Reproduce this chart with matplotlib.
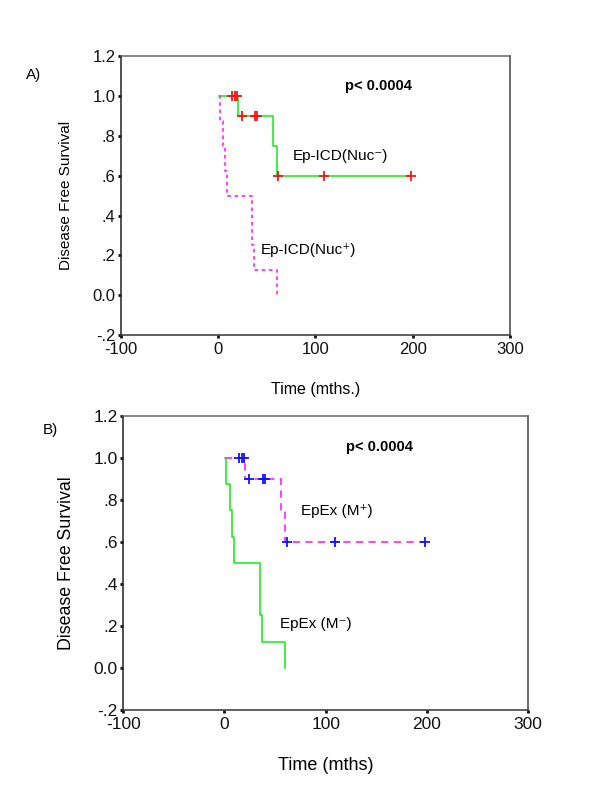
import matplotlib
matplotlib.use("Agg")
import matplotlib.pyplot as plt

plt.rcParams['font.family'] = ['Liberation Sans', 'DejaVu Sans']

# step curves (time in months, survival)
good_t = [1, 20, 56, 60, 198]
good_s = [1.0, 0.9, 0.75, 0.6, 0.6]
good_cens_t = [14, 17, 19, 24, 38, 40, 62, 109, 198]
good_cens_s = [1.0, 1.0, 1.0, 0.9, 0.9, 0.9, 0.6, 0.6, 0.6]

poor_t = [1, 2, 5, 7, 9, 35, 37, 60]
poor_s = [1.0, 0.875, 0.75, 0.625, 0.5, 0.25, 0.125, 0.0]

xticks = [-100, 0, 100, 200, 300]
yticks = [-0.2, 0.0, 0.2, 0.4, 0.6, 0.8, 1.0, 1.2]
ytick_labels = ['-.2', '0.0', '.2', '.4', '.6', '.8', '1.0', '1.2']

GREEN = '#22ee22'
MAGENTA = '#ff33ff'

fig = plt.figure(figsize=(6, 8), dpi=100)
axA = fig.add_axes([0.2017, 0.581, 0.648, 0.349])
axB = fig.add_axes([0.2055, 0.1125, 0.6745, 0.368])


def style_axes(ax, fs):
    ax.set_xlim(-100, 300)
    ax.set_ylim(-0.2, 1.2)
    ax.set_xticks(xticks)
    ax.set_xticklabels([str(x) for x in xticks])
    ax.set_yticks(yticks)
    ax.set_yticklabels(ytick_labels)
    ax.tick_params(direction='out', length=2, width=2, labelsize=fs, pad=3, colors='#111111')
    ax.tick_params(axis='y', pad=2)
    ax.spines['left'].set_color('#222222')
    ax.spines['bottom'].set_color('#333333')
    ax.spines['top'].set_color('#666666')
    ax.spines['right'].set_color('#444444')
    for s in ax.spines.values():
        s.set_linewidth(1.1)


# panel A
style_axes(axA, 12)
axA.plot(good_t, good_s, drawstyle='steps-post', color=GREEN, lw=1.2)
axA.plot(poor_t, poor_s, drawstyle='steps-post', color=MAGENTA, lw=1.3, linestyle=(0, (2, 2)))
axA.plot(good_cens_t, good_cens_s, '+', color='#ff1111', ms=7, mew=1.3)
axA.text(130, 1.048, 'p< 0.0004', fontsize=10.5, fontweight='bold', va='center')
axA.text(77, 0.70, 'Ep-ICD(Nuc\u207b)', fontsize=11, va='center')
axA.text(44, 0.225, 'Ep-ICD(Nuc\u207a)', fontsize=11, va='center')
axA.set_ylabel('Disease Free Survival', fontsize=11, labelpad=14)
axA.set_xlabel('Time (mths.)', fontsize=11.5, labelpad=18)
fig.text(0.043, 0.906, 'A)', fontsize=11, va='center')

# panel B
style_axes(axB, 12.5)
axB.plot(poor_t, poor_s, drawstyle='steps-post', color=GREEN, lw=1.2)
axB.plot(good_t, good_s, drawstyle='steps-post', color=MAGENTA, lw=1.3, linestyle=(0, (4, 3)))
axB.plot(good_cens_t, good_cens_s, '+', color='#1111ff', ms=7, mew=1.3)
axB.text(120, 1.05, 'p< 0.0004', fontsize=10.5, fontweight='bold', va='center')
axB.text(76, 0.745, 'EpEx (M\u207a)', fontsize=11, va='center')
axB.text(55, 0.208, 'EpEx (M\u207b)', fontsize=11, va='center')
axB.set_ylabel('Disease Free Survival', fontsize=12.8, labelpad=13)
axB.set_xlabel('Time (mths)', fontsize=13, labelpad=18)
fig.text(0.072, 0.462, 'B)', fontsize=11, va='center')

fig.savefig('out.png', dpi=100, facecolor='white')
